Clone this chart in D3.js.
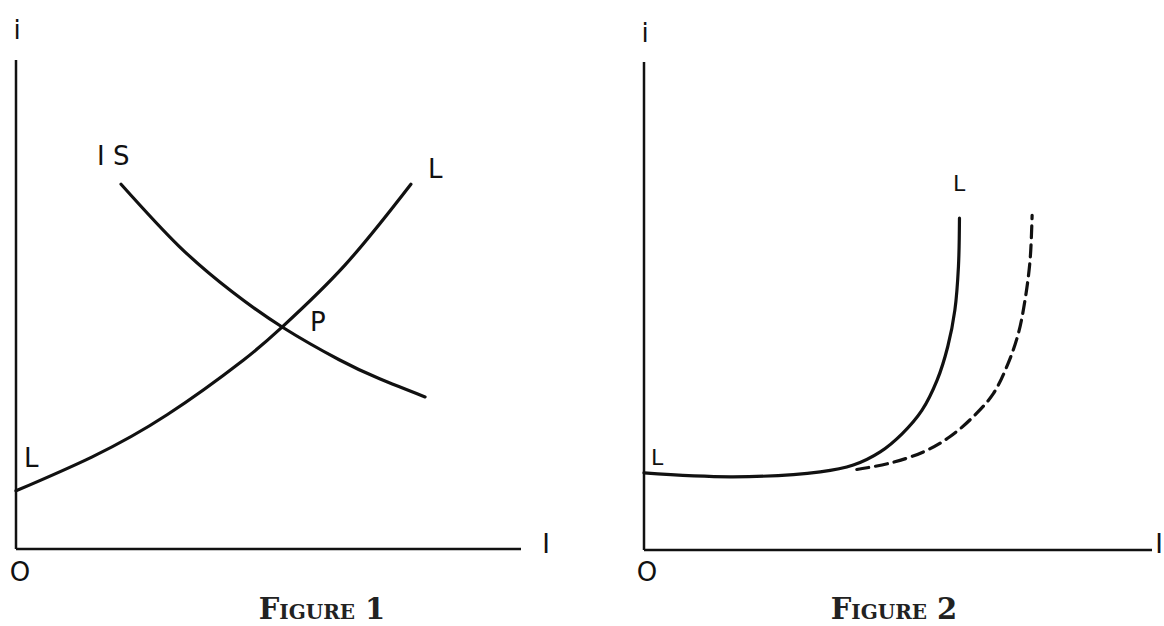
<!DOCTYPE html>
<html>
<head>
<meta charset="utf-8">
<script src="https://cdn.jsdelivr.net/npm/d3@7"></script>
<style>
  body { margin: 0; background: #fff; }
  .lbl { font-family: "DejaVu Sans", sans-serif; fill: #111; }
  .cap { font-family: "DejaVu Serif", serif; font-variant: small-caps; font-weight: bold; fill: #222; }
</style>
</head>
<body>
<script>

// Figure 1: LL curve and IS curve (x = income, y = interest, 0-100 units)
var llX = [0, 15, 30, 45, 52.7, 65, 78.2];
var llY = [11.9, 18.8, 27.5, 38.6, 45.4, 57.9, 74.6];
var isX = [20.8, 32.3, 42.8, 52.7, 64.0, 72.0, 81.0];
var isY = [74.6, 61.9, 52.6, 45.4, 38.7, 34.8, 31.1];

// Figure 2: LL curve (solid) and shifted LL curve (dashed)
var l2X = [0, 17.5, 34.7, 41.2, 46.5, 50.8, 54.7, 57.7, 59.8, 61.2, 61.9, 62.1];
var l2Y = [15.8, 15.0, 16.0, 17.4, 20.1, 23.8, 28.6, 34.8, 41.7, 49.2, 58.1, 68.0];
var dashX = [41.9, 48.4, 55.0, 60.2, 64.8, 68.8, 71.7, 73.7, 75.0, 76.0, 76.4];
var dashY = [16.5, 17.8, 20.1, 23.2, 27.3, 32.1, 38.3, 44.4, 51.2, 59.4, 68.6];

var width = 1164;
var height = 626;

var svg = d3.select("body").append("svg")
    .attr("width", width)
    .attr("height", height);

function zip(xs, ys) {
    return xs.map(function(x, i) { return {x: x, y: ys[i]}; });
}

function drawPanel(p) {
    var x = d3.scaleLinear().domain([0, 100]).range([p.x0, p.x1]);
    var y = d3.scaleLinear().domain([0, 100]).range([p.y0, p.y1]);
    var g = svg.append("g");

    // axes
    g.append("line")
        .attr("x1", x(0)).attr("y1", y(0))
        .attr("x2", x(0)).attr("y2", y(100))
        .attr("stroke", "#111").attr("stroke-width", 2.5);
    g.append("line")
        .attr("x1", x(0)).attr("y1", y(0))
        .attr("x2", x(100)).attr("y2", y(0))
        .attr("stroke", "#111").attr("stroke-width", 2.5);

    var line = d3.line()
        .x(function(d) { return x(d.x); })
        .y(function(d) { return y(d.y); })
        .curve(p.curve);

    p.curves.forEach(function(c) {
        g.append("path")
            .datum(c.data)
            .attr("d", line)
            .attr("fill", "none")
            .attr("stroke", "#111")
            .attr("stroke-width", 3.2)
            .attr("stroke-linecap", "round")
            .attr("stroke-dasharray", c.dash ? "12,7" : null);
    });

    p.labels.forEach(function(l) {
        g.append("text")
            .attr("class", "lbl")
            .attr("x", l.x).attr("y", l.y)
            .attr("text-anchor", l.anchor || "start")
            .style("font-size", (l.size || 26) + "px")
            .text(l.t);
    });

    g.append("text")
        .attr("class", "cap")
        .attr("x", p.capX).attr("y", 619)
        .attr("text-anchor", "middle")
        .style("font-size", "29px")
        .text(p.caption);
}

drawPanel({
    x0: 16, x1: 521, y0: 549, y1: 60,
    curve: d3.curveNatural,
    curves: [
        {data: zip(llX, llY)},
        {data: zip(isX, isY)}
    ],
    labels: [
        {t: "i", x: 17, y: 39, anchor: "middle"},
        {t: "I S", x: 97, y: 165},
        {t: "L", x: 428, y: 178},
        {t: "P", x: 310, y: 331},
        {t: "L", x: 24, y: 467},
        {t: "O", x: 20, y: 581, anchor: "middle"},
        {t: "I", x: 546, y: 553, anchor: "middle"}
    ],
    caption: "Figure 1",
    capX: 322
});

drawPanel({
    x0: 644, x1: 1152, y0: 550, y1: 62,
    curve: d3.curveCatmullRom.alpha(0.5),
    curves: [
        {data: zip(l2X, l2Y)},
        {data: zip(dashX, dashY), dash: true}
    ],
    labels: [
        {t: "i", x: 645, y: 42, anchor: "middle"},
        {t: "L", x: 953, y: 191, size: 22},
        {t: "L", x: 651, y: 465, size: 22},
        {t: "O", x: 647, y: 581, anchor: "middle"},
        {t: "I", x: 1159, y: 553, anchor: "middle"}
    ],
    caption: "Figure 2",
    capX: 894
});

</script>
</body>
</html>
